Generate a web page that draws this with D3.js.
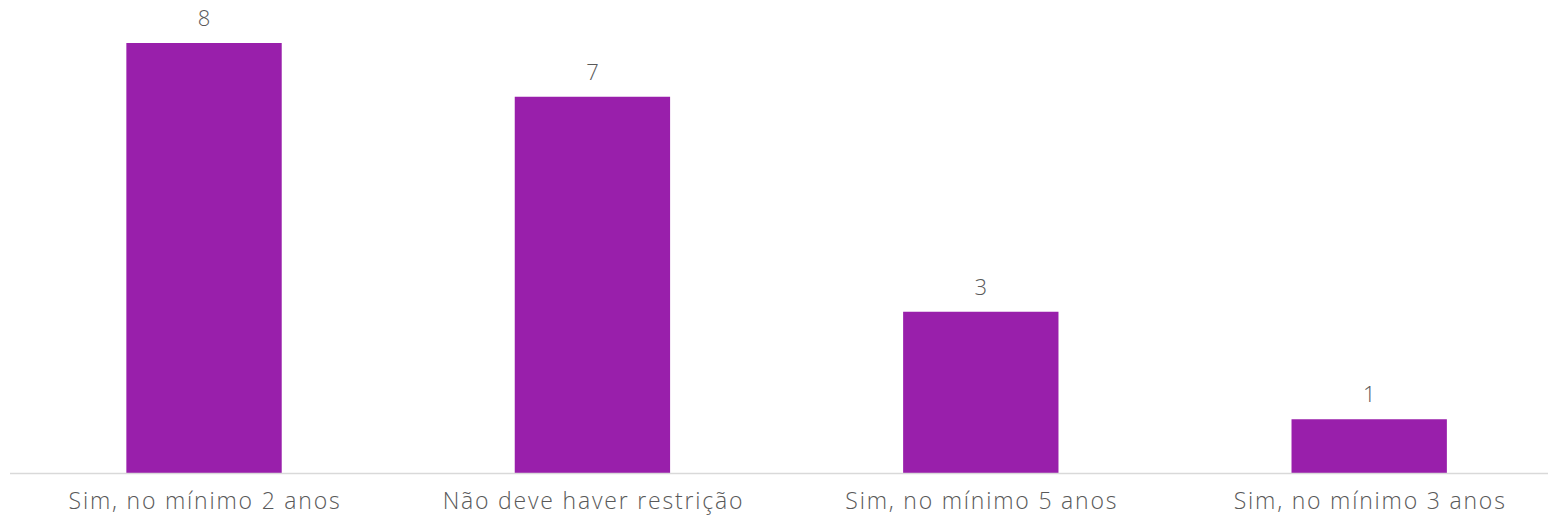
<!DOCTYPE html>
<html>
<head>
<meta charset="utf-8">
<script src="https://cdn.jsdelivr.net/npm/d3@7"></script>
<style>
  body { margin: 0; background: #fff; }
  text { font-family: "Open Sans", sans-serif; fill: #595959; font-weight: 300; }
</style>
</head>
<body>
<svg width="1549" height="517"></svg>
<script>
// Chart data
const categories = ["Sim, no mínimo 2 anos", "Não deve haver restrição", "Sim, no mínimo 5 anos", "Sim, no mínimo 3 anos"];
const values = [8, 7, 3, 1];

const svg = d3.select("svg");
const baseline = 473;

// x scale: bands across the full width
const x = d3.scaleBand()
    .domain(categories)
    .range([10, 1548])
    .paddingInner(0.6)
    .paddingOuter(0.28)
    .align(0.535);

// y scale
const y = d3.scaleLinear()
    .domain([0, 8])
    .range([baseline, 43]);

// Bars
svg.selectAll("rect.bar")
    .data(values)
    .enter().append("rect")
    .attr("class", "bar")
    .attr("x", (d, i) => x(categories[i]))
    .attr("y", d => y(d))
    .attr("width", x.bandwidth())
    .attr("height", d => baseline - y(d))
    .attr("fill", "#991fab");

// Axis line
svg.append("line")
    .attr("x1", 10)
    .attr("x2", 1548)
    .attr("y1", baseline + 0.5)
    .attr("y2", baseline + 0.5)
    .attr("stroke", "#d9d9d9")
    .attr("stroke-width", 1.5);

// Value labels
svg.selectAll("text.value")
    .data(values)
    .enter().append("text")
    .attr("class", "value")
    .attr("x", (d, i) => x(categories[i]) + x.bandwidth() / 2)
    .attr("y", d => y(d) - 17)
    .attr("text-anchor", "middle")
    .style("font-size", "22px")
    .text(d => d);

// Category labels (letter-spacing adds a trailing gap, so nudge right by half)
svg.selectAll("text.cat")
    .data(categories)
    .enter().append("text")
    .attr("class", "cat")
    .attr("x", d => x(d) + x.bandwidth() / 2 + 1)
    .attr("y", 509)
    .attr("text-anchor", "middle")
    .style("font-size", "23px")
    .style("letter-spacing", "1.8px")
    .text(d => d);
</script>
</body>
</html>
